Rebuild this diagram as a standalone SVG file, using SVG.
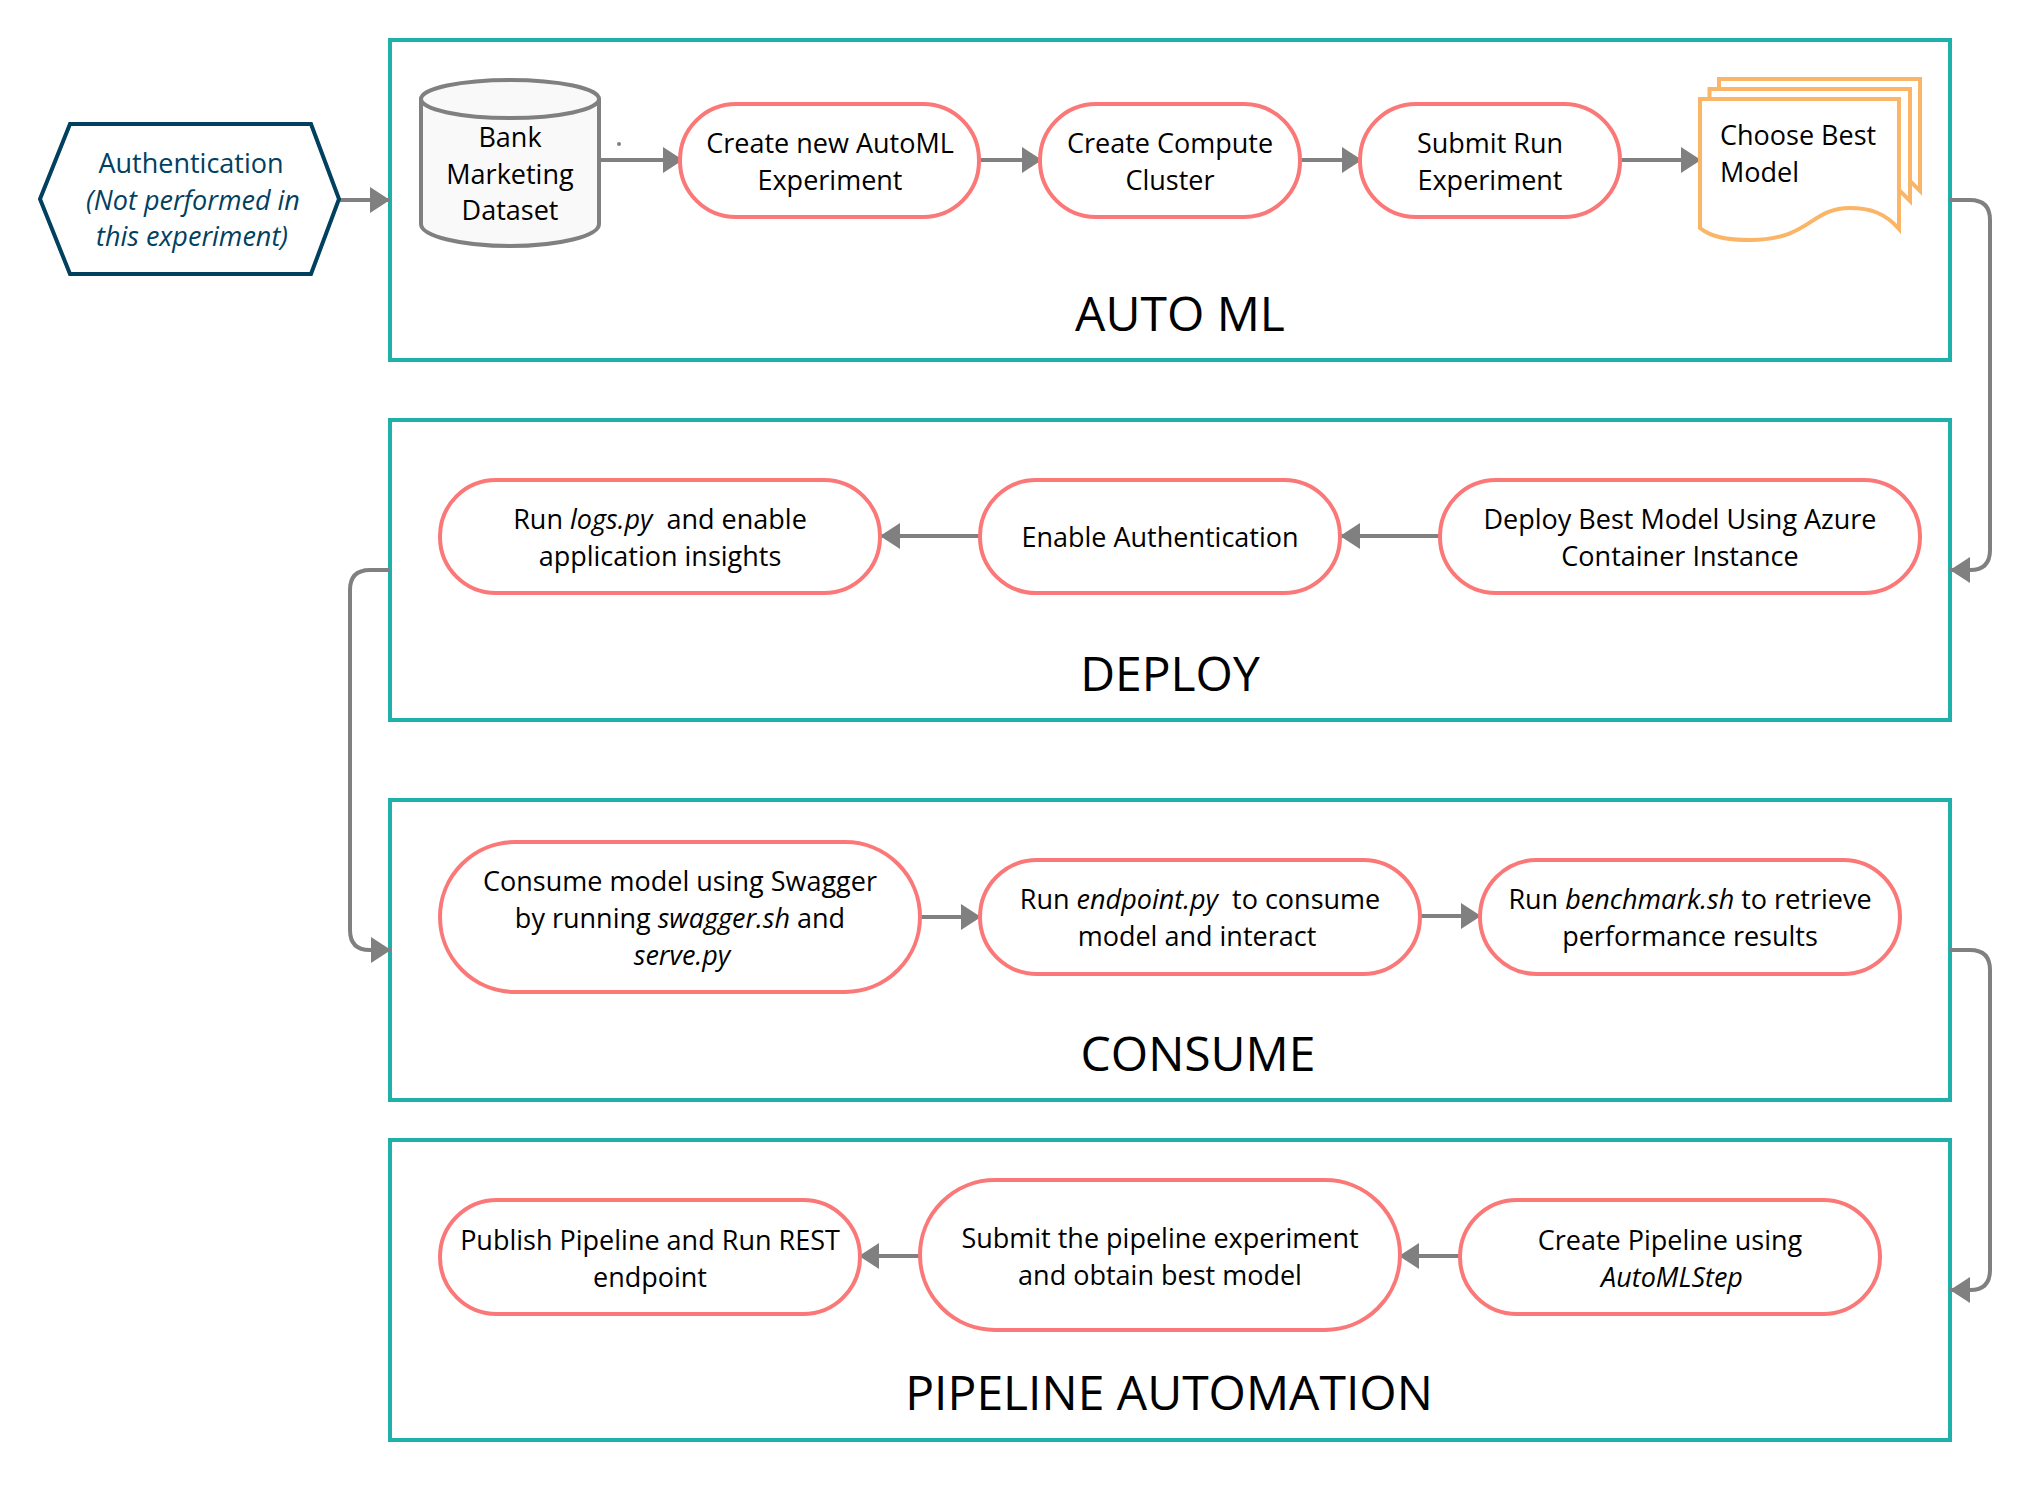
<svg xmlns="http://www.w3.org/2000/svg" width="2030" height="1486" viewBox="0 0 2030 1486">
<defs>
<style>
text{font-family:"Open Sans","Noto Sans","Liberation Sans",sans-serif;fill:#000;font-size:27px;text-anchor:middle}
.i{font-style:italic}
.box{fill:#fff;stroke:#20b0aa;stroke-width:4}
.pill{fill:#fff;stroke:#fb7878;stroke-width:4}
.doc{fill:#fff;stroke:#fbb566;stroke-width:4;stroke-linejoin:miter}
.title{font-size:48px}
.c{fill:none;stroke:#808080;stroke-width:4;marker-end:url(#a)}
.left{text-anchor:start}
.hex{fill:#02405f}
</style>
<marker id="a" markerUnits="userSpaceOnUse" markerWidth="22" markerHeight="28" refX="20" refY="13" orient="auto" overflow="visible"><path d="M0 0L20 13L0 26Z" fill="#808080"/></marker>
</defs>
<rect width="2030" height="1486" fill="#fff"/>
<g id="box-automl"><rect class="box" x="390" y="40" width="1560" height="320"/><text class="title" x="1180" y="331">AUTO ML</text></g>
<g id="box-deploy"><rect class="box" x="390" y="420" width="1560" height="300"/><text class="title" x="1170" y="691">DEPLOY</text></g>
<g id="box-consume"><rect class="box" x="390" y="800" width="1560" height="300"/><text class="title" x="1198" y="1071">CONSUME</text></g>
<g id="box-pipeline"><rect class="box" x="390" y="1140" width="1560" height="300"/><text class="title" x="1169" y="1410">PIPELINE AUTOMATION</text></g>
<g id="connectors">
<path class="c" d="M339 200H390"/>
<path class="c" d="M600 160H683"/>
<path class="c" d="M979 160H1042"/>
<path class="c" d="M1300 160H1362"/>
<path class="c" d="M1620 160H1701"/>
<path class="c" d="M1950 200H1970Q1990 200 1990 220V550Q1990 570 1970 570H1950"/>
<path class="c" d="M1440 536H1340"/>
<path class="c" d="M980 536H880"/>
<path class="c" d="M390 570H370Q350 570 350 590V930Q350 950 370 950H391"/>
<path class="c" d="M920 917H981"/>
<path class="c" d="M1420 916H1481"/>
<path class="c" d="M1950 950H1970Q1990 950 1990 970V1270Q1990 1290 1970 1290H1950"/>
<path class="c" d="M1460 1256H1399"/>
<path class="c" d="M920 1256H859"/>
<circle cx="619" cy="144" r="2" fill="#808080"/>
</g>
<g id="n-auth"><path d="M40 199L70 124H311L339 199L311 274H70Z" fill="#fff" stroke="#02405f" stroke-width="4"/>
<text class="hex" style="fill:#02405f" x="191" y="173">Authentication</text>
<text class="i" style="fill:#02405f" x="193" y="210">(Not performed in</text>
<text class="i" style="fill:#02405f" x="192" y="246">this experiment)</text></g>
<g id="n-dataset"><path d="M421 99V224C421 236 461 246 510 246S599 236 599 224V99" fill="#f9f9f9" stroke="#808080" stroke-width="4"/><ellipse cx="510" cy="99" rx="89" ry="19" fill="#f9f9f9" stroke="#808080" stroke-width="4"/>
<text x="510" y="147">Bank</text><text x="510" y="184">Marketing</text><text x="510" y="220">Dataset</text></g>
<g id="n-experiment"><rect class="pill" x="680" y="104" width="299" height="113" rx="56"/><text x="830" y="153">Create new AutoML</text><text x="830" y="190">Experiment</text></g>
<g id="n-compute"><rect class="pill" x="1040" y="104" width="260" height="113" rx="56"/><text x="1170" y="153">Create Compute</text><text x="1170" y="190">Cluster</text></g>
<g id="n-submit"><rect class="pill" x="1360" y="104" width="260" height="113" rx="56"/><text x="1490" y="153">Submit Run</text><text x="1490" y="190">Experiment</text></g>
<g id="n-best">
<path class="doc" d="M1719 99V79H1920V191L1899 170V99Z"/>
<path class="doc" d="M1709.500 109V89H1910V201L1899 190V109Z"/>
<path class="doc" d="M1700 99H1899V229C1885 213 1870 208 1850 208C1810 208 1810 240 1750 240C1730 240 1712 238 1700 228Z"/>
<text class="left" x="1720" y="145">Choose Best</text><text class="left" x="1720" y="182">Model</text></g>
<g id="n-logs"><rect class="pill" x="440" y="480" width="440" height="113" rx="56"/><text x="660" y="529">Run <tspan class="i">logs.py</tspan><tspan dx="7"> and enable</tspan></text><text x="660" y="566">application insights</text></g>
<g id="n-auth-enable"><rect class="pill" x="980" y="480" width="360" height="113" rx="56"/><text x="1160" y="547">Enable Authentication</text></g>
<g id="n-deploy"><rect class="pill" x="1440" y="480" width="480" height="113" rx="56"/><text x="1680" y="529">Deploy Best Model Using Azure</text><text x="1680" y="566">Container Instance</text></g>
<g id="n-swagger"><rect class="pill" x="440" y="842" width="480" height="150" rx="75"/><text x="680" y="891">Consume model using Swagger</text><text x="680" y="928">by running <tspan class="i">swagger.sh</tspan> and</text><text class="i" x="682" y="965">serve.py</text></g>
<g id="n-endpoint"><rect class="pill" x="980" y="860" width="440" height="114" rx="57"/><text x="1200" y="909">Run <tspan class="i">endpoint.py</tspan><tspan dx="7"> to consume</tspan></text><text x="1197" y="946">model and interact</text></g>
<g id="n-benchmark"><rect class="pill" x="1480" y="860" width="420" height="114" rx="57"/><text x="1690" y="909">Run <tspan class="i">benchmark.sh</tspan> to retrieve</text><text x="1690" y="946">performance results</text></g>
<g id="n-publish"><rect class="pill" x="440" y="1200" width="420" height="114" rx="57"/><text x="650" y="1250">Publish Pipeline and Run REST</text><text x="650" y="1287">endpoint</text></g>
<g id="n-submit-pipe"><rect class="pill" x="920" y="1180" width="480" height="150" rx="75"/><text x="1160" y="1248">Submit the pipeline experiment</text><text x="1160" y="1285">and obtain best model</text></g>
<g id="n-create-pipe"><rect class="pill" x="1460" y="1200" width="420" height="114" rx="57"/><text x="1670" y="1250">Create Pipeline using</text><text class="i" x="1672" y="1287">AutoMLStep</text></g>
</svg>
